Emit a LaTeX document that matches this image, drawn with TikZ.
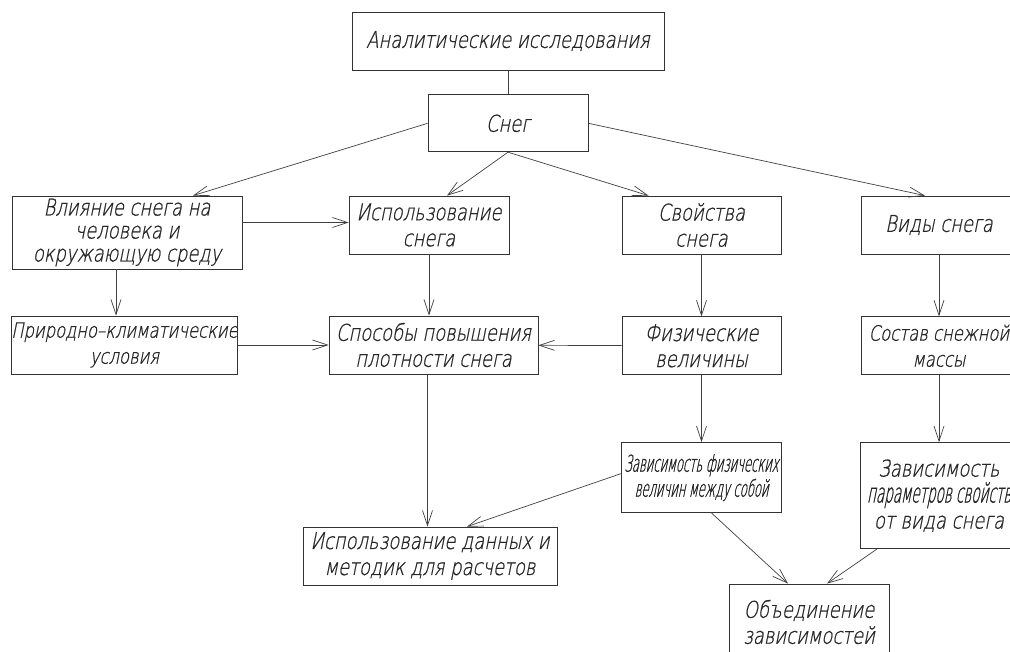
\documentclass[tikz,border=0pt]{standalone}
\usepackage{fontspec}
\usepackage{tikz}
\usetikzlibrary{positioning, arrows.meta}
\newfontfamily\gost{DejaVu Sans ExtraLight}[FakeSlant=0.2, FakeStretch=0.78, FakeBold=0.8]
\newfontfamily\gostnarrow{DejaVu Sans ExtraLight}[FakeSlant=0.2, FakeStretch=0.5, FakeBold=0.8]
\tikzset{
    block/.style={draw=black!80, line width=0.8pt, rectangle, align=center, inner sep=0pt, text=black!85, font=\gost\fontsize{23}{26}\selectfont},
    edgeline/.style={draw=black!75, line width=0.7pt},
    edgearrow/.style={edgeline, -{Straight Barb[length=15pt,width=10pt]}},
}

\begin{document}
\begin{tikzpicture}[x=1pt, y=-1pt]
    \useasboundingbox (0,0) rectangle (1010,652);
    \node[block, minimum width=312pt, minimum height=58pt] (v1) at (508,41) {Аналитические исследования};
    \node[block, minimum width=160pt, minimum height=57pt] (v2) [below=24pt of v1] {Снег};
    \node[block, minimum width=230pt, minimum height=73pt, font=\gost\fontsize{23}{23}\selectfont] (v3) at (127,232.5) {Влияние снега на \\ человека и \\ окружающую среду};
    \node[block, minimum width=160pt, minimum height=58pt] (v4) at (429,225) {Использование \\ снега};
    \node[block, minimum width=159pt, minimum height=58pt] (v5) at (701.5,225) {Свойства \\ снега};
    \node[block, minimum width=156pt, minimum height=58pt] (v6) at (939,225) {Виды снега};
    \node[block, minimum width=221pt, minimum height=58pt, font=\gost\fontsize{21}{26}\selectfont] (v7) at (124.5,345) {Природно–климатические \\ условия};
    \node[block, minimum width=209pt, minimum height=58pt] (v8) at (433.5,345) {Способы повышения \\ плотности снега};
    \node[block, minimum width=159pt, minimum height=58pt] (v9) [below=62pt of v5] {Физические \\ величины};
    \node[block, minimum width=156pt, minimum height=58pt, font=\gost\fontsize{21}{26}\selectfont] (v10) [below=62pt of v6] {Состав снежной \\ массы};
    \node[block, minimum width=160pt, minimum height=70pt, font=\gostnarrow\fontsize{23}{25}\selectfont] (v11) [below=67pt of v9] {Зависимость физических \\ величин между собой};
    \node[block, minimum width=158pt, minimum height=106pt] (v12) [below=67pt of v10] {Зависимость \\ {\gostnarrow\fontsize{27}{22}\selectfont параметров свойств} \\ от вида снега};
    \node[block, minimum width=254pt, minimum height=58pt] (v13) at (430,556) {Использование данных и \\ методик для расчетов};
    \node[block, minimum width=160pt, minimum height=76pt] (v14) at (809,622) {Объединение \\ зависимостей};

    \coordinate[xshift=66pt] (C1) at (v3.north);
    \coordinate[yshift=10pt] (C2) at (v3.east);
    \coordinate[xshift=-11pt] (C3) at (v3.south);
    \coordinate[xshift=18pt] (D1) at (v4.north);
    \coordinate[xshift=-53pt] (E1) at (v5.north);
    \coordinate[xshift=-14pt] (F1) at (v6.north);
    \coordinate[xshift=-6pt] (H1) at (v8.south);
    \coordinate[yshift=4pt] (K1) at (v11.west);
    \coordinate[xshift=10pt] (K2) at (v11.south);
    \coordinate[xshift=-62pt] (L1) at (v12.south);
    \coordinate[xshift=37pt] (M1) at (v13.north);
    \coordinate[xshift=-21pt] (N1) at (v14.north);
    \coordinate[xshift=18pt] (N2) at (v14.north);

    \draw[edgeline] (v1) -- (v2);
    \draw[edgearrow] (v2.west) -- (C1);
    \draw[edgearrow] (v2.south) -- (D1);
    \draw[edgearrow] (v2.south) -- (E1);
    \draw[edgearrow] (v2.east) -- (F1);
    \draw[edgearrow] (C2) -- (C2 -| v4.west);
    \draw[edgearrow] (C3) -- (C3 |- v7.north);
    \draw[edgearrow] (v4.south) -- (v4.south |- v8.north);
    \draw[edgearrow] (v7) -- (v8);
    \draw[edgearrow] (v9) -- (v8);
    \draw[edgearrow] (v5) -- (v9);
    \draw[edgearrow] (v6) -- (v10);
    \draw[edgearrow] (v9) -- (v11);
    \draw[edgearrow] (v10) -- (v12);
    \draw[edgearrow] (H1) -- (H1 |- v13.north);
    \draw[edgearrow] (K1) -- (M1);
    \draw[edgearrow] (K2) -- (N1);
    \draw[edgearrow] (L1) -- (N2);
\end{tikzpicture}
\end{document}
